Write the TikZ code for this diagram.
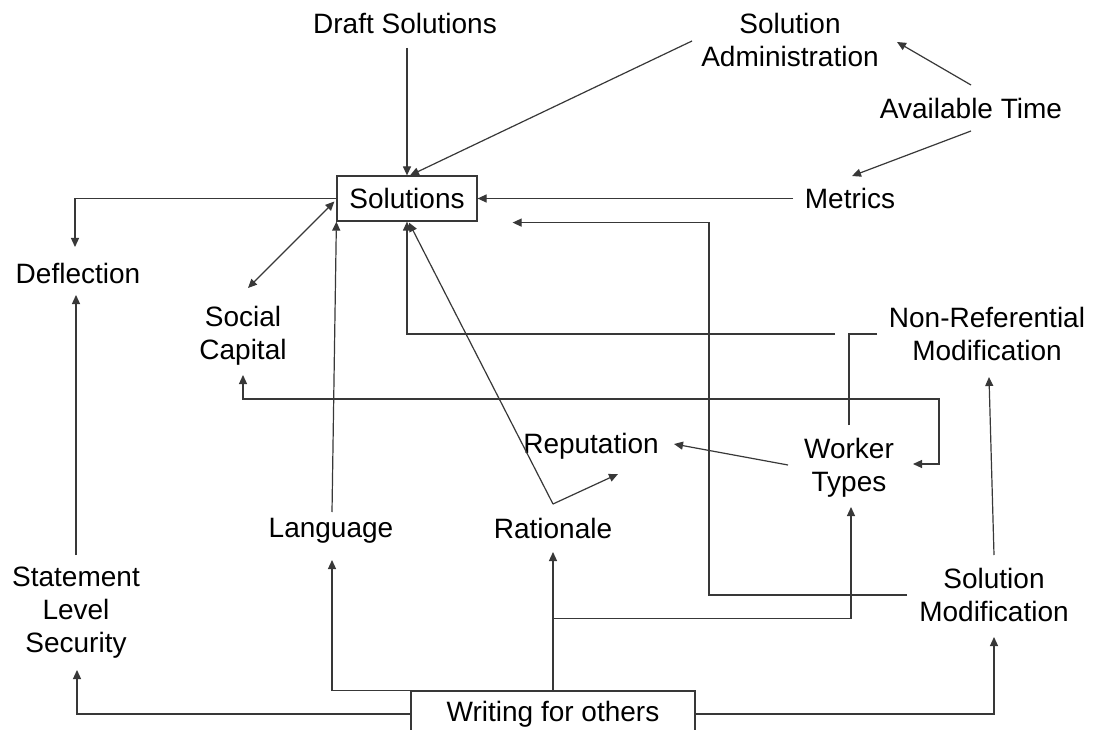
\documentclass[tikz,border=0pt]{standalone}
\usepackage{fontspec}
\setmainfont{Liberation Sans}
\usetikzlibrary{arrows.meta,calc}

\begin{document}
\begin{tikzpicture}[x=1pt,y=-1pt,
  lbl/.style={align=center,inner sep=0pt,font=\fontsize{28}{33}\selectfont},
  boxed/.style={draw=black!78,line width=1.2pt,inner sep=0pt,font=\fontsize{28}{33}\selectfont},
  link/.style={draw=black!78,line width=1.2pt},
  arr/.style={link,-{Triangle[length=9pt,width=8pt]}},
  dbl/.style={link,{Triangle[length=9pt,width=8pt]}-{Triangle[length=9pt,width=8pt]}}]
\useasboundingbox (0,0) rectangle (1095,730);
\fill[white] (0,0) rectangle (1095,730);
\clip (0,0) rectangle (1095,730);

% concepts
\node[boxed,minimum width=140pt,minimum height=45pt] (sol) at (407,198.5) {Solutions};
\node[boxed,minimum width=284pt,minimum height=46pt] (write) at (553,714) {Writing for others};
\node[lbl] (draft)   at (405,23)  {Draft Solutions};
\node[lbl] (admin)   at (790,40)  {Solution\\Administration};
\node[lbl] (time)    at (971,108) {Available Time};
\node[lbl] (metrics) at (850,198) {Metrics};
\node[lbl] (defl)    at (78,273)  {Deflection};
\node[lbl] (social)  at (243,336) {Social\\Capital};
\node[lbl] (rep)     at (591,446) {Reputation};
\node[lbl] (worker)  at (849,468) {Worker\\Types};
\node[lbl] (lang)    at (331,531) {Language};
\node[lbl] (rat)     at (553,528) {Rationale};
\node[lbl] (sls)     at (76,613)  {Statement\\Level\\Security};
\node[lbl] (smod)    at (994,595) {Solution\\Modification};
\node[lbl] (nrm)     at (987,334) {Non-Referential\\Modification};

% junction points
\coordinate (ratfork) at ($(rat)+(0,-24)$);
\coordinate (wjoin)   at ($(worker)+(0,-69)$);

% links into Solutions
\draw[arr] ($(draft)+(2,25)$) -- (sol.north);
\draw[arr] ($(admin)+(-98,1)$) -- ($(sol.north)+(3,0)$);
\draw[arr] ($(metrics)+(-57,0.5)$) -- (sol.east);
\draw[arr] ($(lang)+(1,-19)$) -- (sol.south west);
\draw[arr] ($(nrm)+(-152,0)$) -| (sol.south);
\draw[arr] (ratfork) -- ($(sol.south)+(2,1)$);
\draw[arr] ($(smod)+(-87,0)$) -- ++(-198,0) |- ($(sol.south east)+(35,1)$);
\draw[dbl] ($(social)+(5,-48)$) -- ($(sol.west)+(-2,3)$);

% links out of Solutions
\draw[arr] (sol.west) -| ($(defl)+(-3,-26)$);

% time budget
\draw[arr] ($(time)+(0,-23)$) -- ($(admin)+(107,2)$);
\draw[arr] ($(time)+(0,23)$) -- ($(metrics)+(2,-22)$);

% rationale and workers
\draw[arr] (ratfork) -- ($(rep)+(27,28)$);
\draw[arr] ($(worker)+(-61,-3)$) -- ($(rep)+(83,-2)$);
\draw[link] ($(nrm)+(-110,0)$) -| (wjoin);
\draw[link] ($(worker)+(0,-43)$) -- (wjoin);
\draw[arr] (wjoin) -| ($(social)+(0,39)$);
\draw[arr] (wjoin) -- ++(90,0) |- ($(worker)+(64,-4)$);

% modification
\draw[arr] ($(smod)+(0,-40)$) -- ($(nrm)+(2,43)$);
\draw[arr] ($(sls)+(0,-58)$) -- ($(defl)+(-2,22)$);

% writing for others
\draw[arr] (write.north) -- ($(rat)+(0,24)$);
\draw[arr] ($(write.north)+(0,-72)$) -| ($(worker)+(2,39)$);
\draw[arr] (write.north west) -| ($(lang)+(1,29)$);
\draw[arr] (write.west) -| ($(sls)+(1,57)$);
\draw[arr] (write.east) -| ($(smod)+(0,42)$);
\end{tikzpicture}
\end{document}
